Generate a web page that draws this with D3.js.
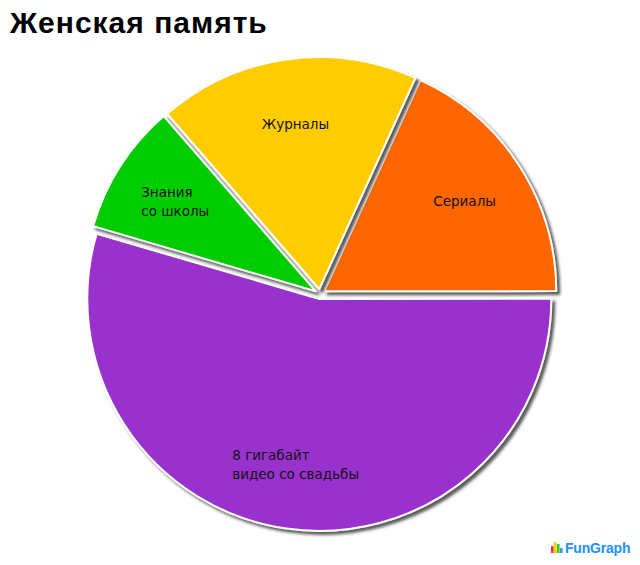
<!DOCTYPE html>
<html><head><meta charset="utf-8">
<script src="https://cdn.jsdelivr.net/npm/d3@7"></script>
<style>body{margin:0;background:#fff}</style>
</head><body>
<svg id="c" width="640" height="565"></svg>
<script>
const categories = ["Сериалы", "8 гигабайт\nвидео со свадьбы", "Знания\nсо школы", "Журналы"];
const values = [20, 60, 10, 20];
const colors = ["#FF6600", "#9933CC", "#00CC00", "#FFCC00"];
const title = "Женская память";

const svg = d3.select("#c");
const defs = svg.append("defs");
const f = defs.append("filter").attr("id","sh").attr("x","-20%").attr("y","-20%").attr("width","140%").attr("height","140%");
f.append("feDropShadow").attr("dx",3).attr("dy",3).attr("stdDeviation",1.4).attr("flood-color","#333").attr("flood-opacity",0.8);

svg.append("text").attr("x",10).attr("y",33).text(title)
  .attr("font-family","Liberation Sans, Arial, sans-serif").attr("font-weight","bold").attr("font-size",30).attr("letter-spacing",1).attr("fill","#000");

const cx = 320, cy = 294, R = 232, off = 5, labR = 172;
const deg = Math.PI/180;
const pie = d3.pie().sort(null).startAngle(24.5*deg).endAngle(384.5*deg);
const arcs = pie(values);
const arc = d3.arc().innerRadius(0).outerRadius(R);
const g = svg.append("g").attr("transform",`translate(${cx},${cy})`);

const sl = g.selectAll("g.s").data(arcs).enter().append("g")
  .attr("transform", d => { const m=(d.startAngle+d.endAngle)/2; return `translate(${off*Math.sin(m)},${-off*Math.cos(m)})`; });
sl.append("path").attr("d", arc).attr("fill",(d,i)=>colors[i])
  .attr("stroke","#fff").attr("stroke-width",2).attr("stroke-linejoin","round").attr("filter","url(#sh)");

const lab = d3.arc().innerRadius(labR).outerRadius(labR);
arcs.forEach((d,i)=>{
  const [x,y] = lab.centroid(d);
  const lines = categories[i].split("\n");
  const lh = 19;
  const t = g.append("text").attr("font-family","DejaVu Sans, Verdana, sans-serif").attr("font-size",13.5).attr("fill","#111");
  lines.forEach((l,k)=>{
    t.append("tspan").attr("x",0).attr("y", y - (lines.length-1)*lh/2 + k*lh + 5).text(l);
  });
  const w = t.node().getBBox().width;
  t.selectAll("tspan").attr("x", x - w/2);
});

// FunGraph logo
const lg = svg.append("g").attr("transform","translate(551,553)");
const bars = [[0,7,"#FF3333"],[3,11,"#FFCC00"],[6,9,"#33CC33"],[9,5,"#3399FF"]];
lg.selectAll("rect").data(bars).enter().append("rect")
  .attr("x",d=>d[0]).attr("y",d=>-d[1]).attr("width",2.6).attr("height",d=>d[1]).attr("fill",d=>d[2]);
lg.append("text").attr("x",14).attr("y",0).text("FunGraph")
  .attr("font-family","Liberation Sans, Arial, sans-serif").attr("font-weight","bold").attr("font-size",14).attr("fill","#1e90ff").attr("letter-spacing",-0.2);
</script>
</body></html>
